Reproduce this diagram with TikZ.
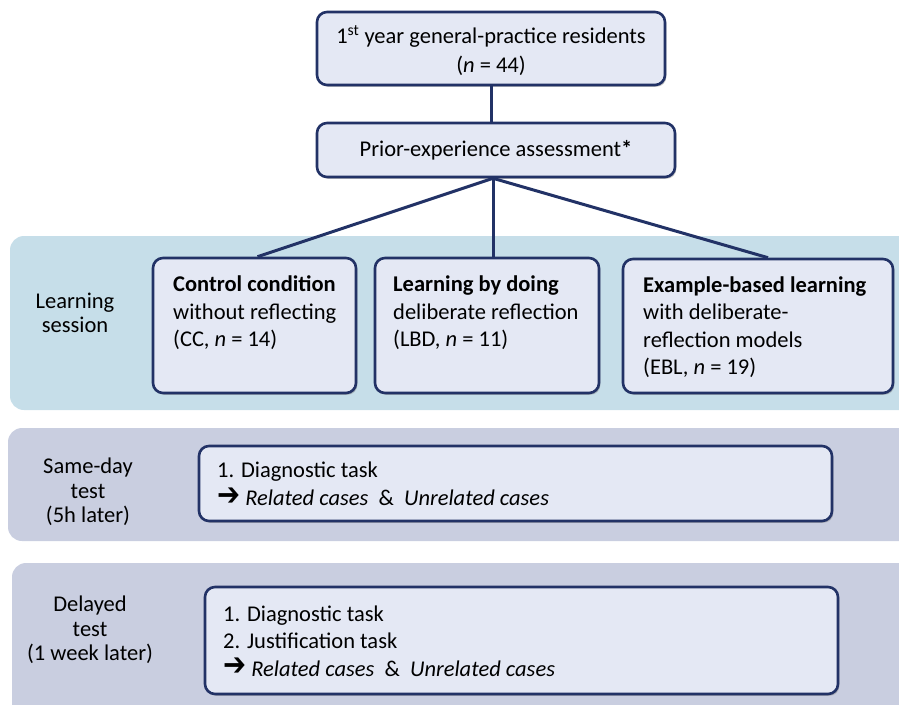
\documentclass[tikz,border=0pt]{standalone}
\usepackage{fontspec}
\setmainfont{Carlito}
\newfontfamily\arrowfont{DejaVu Sans}
\usetikzlibrary{shadows,calc}
\definecolor{navy}{RGB}{34,50,102}
\definecolor{boxfill}{RGB}{228,232,244}
\definecolor{learnband}{RGB}{198,222,233}
\definecolor{testband}{RGB}{201,206,224}
\tikzset{
  box/.style={draw=navy, line width=2.6pt, fill=boxfill, rounded corners=10pt, inner sep=0pt,
    drop shadow={shadow xshift=1.4pt, shadow yshift=-1.8pt, opacity=0.45}},
  band/.style={rounded corners=14pt, draw=none},
  link/.style={draw=navy, line width=3pt},
  boxtext/.style={font=\fontsize{22.5}{27.5}\selectfont, inner sep=0pt, align=left, anchor=west},
  ctext/.style={font=\fontsize{22.5}{29}\selectfont, inner sep=0pt, align=center},
  sidelabel/.style={font=\fontsize{22.5}{24.5}\selectfont, inner sep=0pt, align=center},
}
\newcommand{\arr}{\raisebox{0.02em}{\scalebox{1.25}[1.45]{\arrowfont\bfseries\fontsize{22}{22}\selectfont ➔}}}
\begin{document}
\begin{tikzpicture}[x=1pt,y=-1pt]
\useasboundingbox (0,0) rectangle (899,704);
\clip (0,0) rectangle (899,704);
% bands
\fill[band, learnband] (10,236) rectangle (930,410);
\fill[band, testband] (8,428) rectangle (930,541);
\fill[band, testband] (12,563) rectangle (930,740);
% side labels
\node[sidelabel] (lsl) at (75,313) {Learning\\session};
\node[sidelabel] (sdl) at (88,492) {Same-day\\test\\(5h later)};
\node[sidelabel] (dll) at (90,630) {Delayed\\test\\(1 week later)};
% boxes
\node[box, minimum width=348, minimum height=73] (top) at (491,48.5) {};
\node[box, minimum width=358, minimum height=54] (prior) at (496,150) {};
\node[box, minimum width=203, minimum height=135] (cc) at (254.5,325.5) {};
\node[box, minimum width=224, minimum height=135] (lbd) at (487,325.5) {};
\node[box, minimum width=270, minimum height=134] (ebl) at (758,326) {};
\node[box, minimum width=633, minimum height=75] (sd) at (515.5,483.5) {};
\node[box, minimum width=633, minimum height=107] (dl) at (521.5,640.5) {};
% texts
\node[ctext] (toptext) at ($(top.center)+(0,2)$) {1\textsuperscript{st} year general-practice residents\\(\textit{n} = 44)};
\node[ctext] (priortext) at (prior.center) {Prior-experience assessment\textbf{*}};
\node[boxtext] (cctext) at (173,313) {\textbf{Control condition}\\without reflecting\\(CC, \textit{n} = 14)};
\node[boxtext] (lbdtext) at (393,313) {\textbf{Learning by doing}\\deliberate reflection\\(LBD, \textit{n} = 11)};
\node[boxtext] (ebltext) at (643,327) {\textbf{Example-based learning}\\with deliberate-\\reflection models\\(EBL, \textit{n} = 19)};
\node[boxtext] (sdtext) at (217,484) {1. Diagnostic task\\\arr\ \textit{Related cases}\ \ \&\ \ \textit{Unrelated cases}};
\node[boxtext] (dltext) at (223,641) {1. Diagnostic task\\2. Justification task\\\arr\ \textit{Related cases}\ \ \&\ \ \textit{Unrelated cases}};
% connectors
\path[link] (top.south) -- (top.south |- prior.north);
\path[link] ($(prior.south)+(-3,0)$) -- ($(cc.north)+(3,0)$);
\path[link] ($(prior.south)+(-3,0)$) -- ($(lbd.north)+(6,0)$);
\path[link] ($(prior.south)+(-3,0)$) -- ($(ebl.north)+(10,0)$);
\path[link] ($(cc.south)+(2,0)$) -- ($(cc.south)+(2,0)$ |- sd.north);
\path[link] ($(lbd.south)+(5,0)$) -- ($(lbd.south)+(5,0)$ |- sd.north);
\path[link] ($(ebl.south)+(-5,0)$) -- ($(ebl.south)+(-5,0)$ |- sd.north);
\path[link] ($(sd.south west)+(63,0)$) -- ($(sd.south west)+(63,0)$ |- dl.north);
\path[link] ($(sd.south west)+(299,0)$) -- ($(sd.south west)+(299,0)$ |- dl.north);
\path[link] ($(sd.south west)+(554,0)$) -- ($(sd.south west)+(554,0)$ |- dl.north);
\end{tikzpicture}
\end{document}
